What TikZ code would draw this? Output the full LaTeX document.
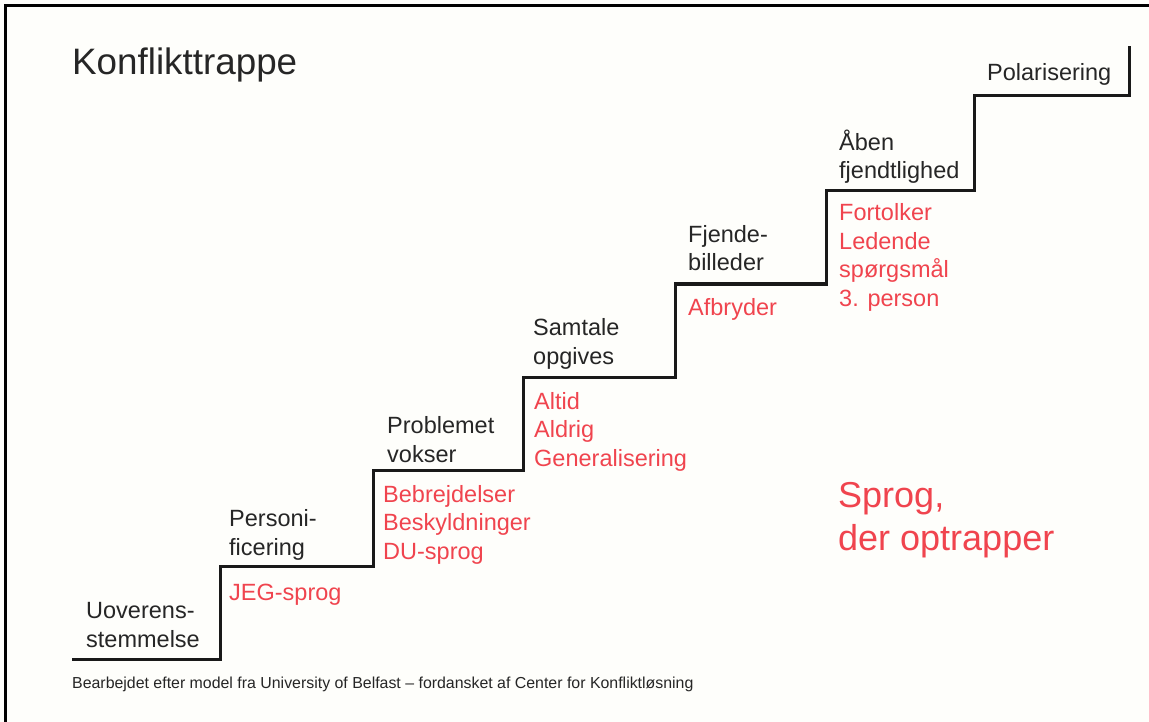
\documentclass[tikz,border=0pt]{standalone}
\usepackage{fontspec}
\setmainfont{Liberation Sans}
\definecolor{langred}{RGB}{240,68,78}
\definecolor{ink}{RGB}{38,38,38}
\definecolor{paper}{RGB}{254,254,251}
\begin{document}
\begin{tikzpicture}[x=1pt,y=-1pt,
  lbl/.style={anchor=base west, inner sep=0pt, align=left, text=ink, font=\fontsize{23.5}{28.5}\selectfont},
  redlbl/.style={lbl, text=langred},
  stair/.style={line width=3pt, draw=black!90, line join=miter, line cap=butt},
  frame/.style={line width=3pt, draw=black}]
\useasboundingbox (0,0) rectangle (1149,722);
\fill[paper] (0,0) rectangle (1149,722);
\draw[frame] (5.5,722) -- (5.5,5.5) -- (1149,5.5);
\draw[stair] (72,659) -- (220,659) |- (373,566) |- (523,470) |- (675,377) |- (826,284) |- (974,191) |- (1129,96) -- (1129,46);
\node[lbl, font=\fontsize{36.8}{44}\selectfont] (title) at (72,75) {Konflikttrappe};
\node[lbl] (s1) at (86,647) {Uoverens-\\stemmelse};
\node[lbl] (s2) at (229,555) {Personi-\\ficering};
\node[redlbl] (r2) at (229,600) {JEG-sprog};
\node[lbl] (s3) at (387,462) {Problemet\\vokser};
\node[redlbl] (r3) at (383,559) {Bebrejdelser\\Beskyldninger\\DU-sprog};
\node[lbl] (s4) at (533,364) {Samtale\\opgives};
\node[redlbl] (r4) at (534,466) {Altid\\Aldrig\\Generalisering};
\node[lbl] (s5) at (688,271) {Fjende-\\billeder};
\node[redlbl] (r5) at (688,315) {Afbryder};
\node[lbl] (s6) at (839,179) {Åben\\fjendtlighed};
\node[redlbl] (r6) at (839,306) {Fortolker\\Ledende\\spørgsmål\\3. person};
\node[lbl] (s7) at (987,81) {Polarisering};
\node[redlbl, font=\fontsize{36}{43}\selectfont] (lang) at (838,550) {Sprog,\\der optrapper};
\node[lbl, font=\fontsize{15.9}{19}\selectfont] (foot) at (72,688) {Bearbejdet efter model fra University of Belfast – fordansket af Center for Konfliktløsning};
\end{tikzpicture}
\end{document}
